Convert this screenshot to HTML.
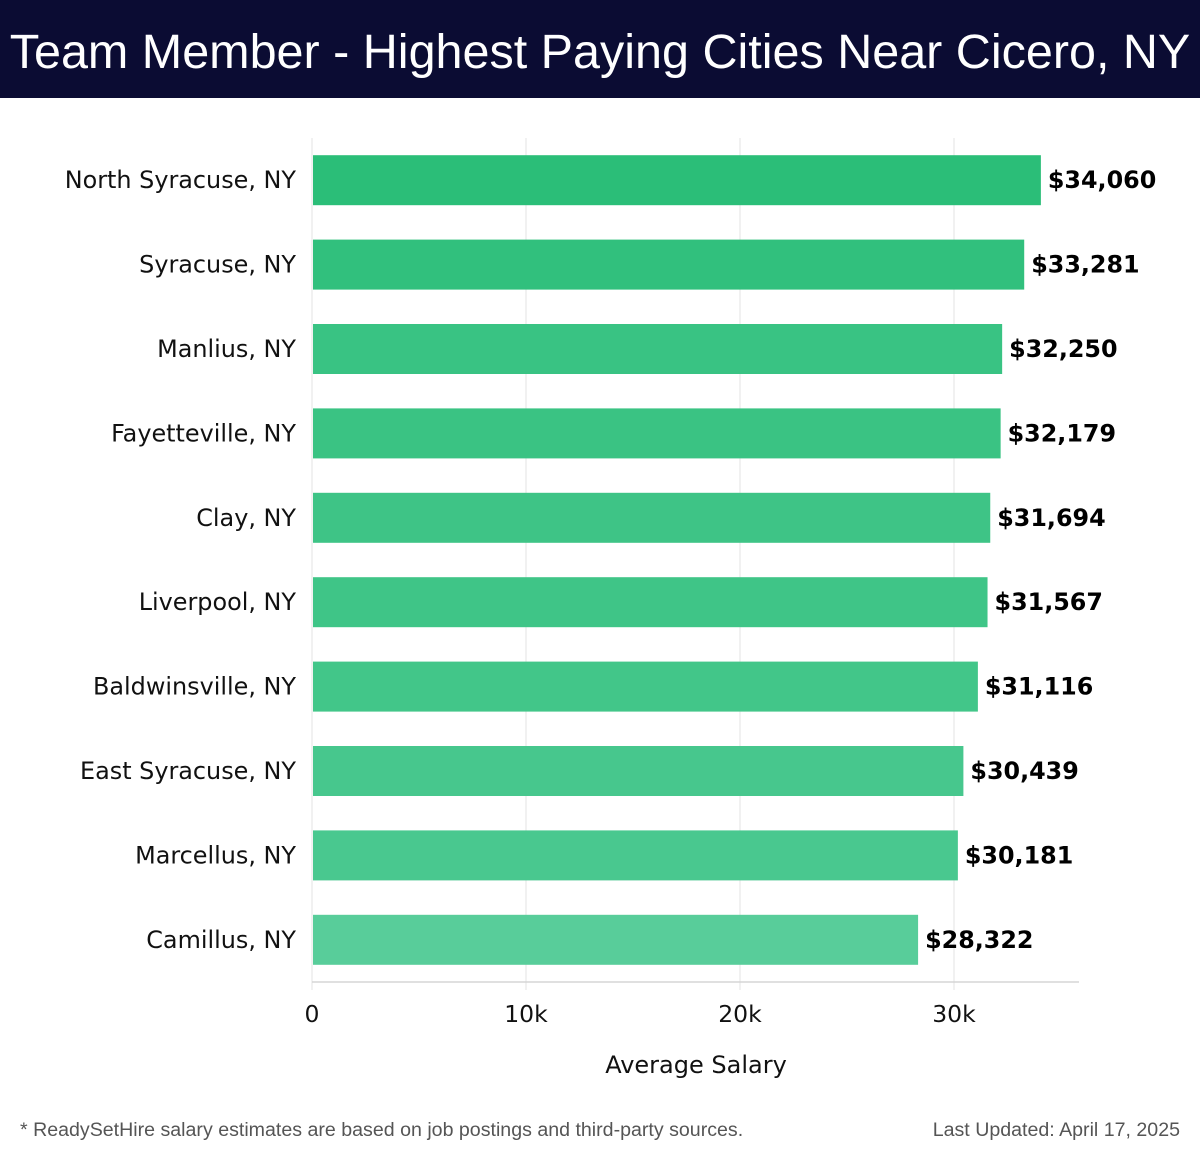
<!DOCTYPE html>
<html><head><meta charset="utf-8"><style>
body{margin:0;width:1200px;height:1158px;background:#fff;overflow:hidden;font-family:"DejaVu Sans","Liberation Sans",sans-serif}
#hdr{position:absolute;left:0;top:0;width:1200px;height:98px;background:#0b0c33;color:#fff;font-family:"Liberation Sans",sans-serif;font-size:48.5px;line-height:104px;text-align:center;white-space:nowrap}
.foot{position:absolute;top:1119px;font-family:"Liberation Sans",sans-serif;font-size:19.6px;color:#555}
</style></head><body>
<div id="hdr">Team Member - Highest Paying Cities Near Cicero, NY</div>
<svg id="c" width="1200" height="1158" style="position:absolute;left:0;top:0"></svg>
<div class="foot" style="left:20px">* ReadySetHire salary estimates are based on job postings and third-party sources.</div>
<div class="foot" style="right:20px">Last Updated: April 17, 2025</div>
<script>
const cities=["North Syracuse, NY","Syracuse, NY","Manlius, NY","Fayetteville, NY","Clay, NY","Liverpool, NY","Baldwinsville, NY","East Syracuse, NY","Marcellus, NY","Camillus, NY"];
const salaries=[34060,33281,32250,32179,31694,31567,31116,30439,30181,28322];
const ticks=[0,10000,20000,30000];
const tickLabels=["0","10k","20k","30k"];
const NS="http://www.w3.org/2000/svg";
const svg=document.getElementById('c');
const x0=312,pxPerUnit=214/10000,top0=138,band=84.4,barH=50;
const x=v=>x0+v*pxPerUnit;
const yc=i=>top0+band*i+band/2;
function mk(t,a){const e=document.createElementNS(NS,t);for(const k in a)e.setAttribute(k,a[k]);svg.appendChild(e);return e;}
ticks.forEach((t,i)=>{
 const g=mk('line',{x1:x(t),x2:x(t),y1:138,y2:990,stroke:'#e3e3e3','stroke-width':1});
 
 
 const l=mk('text',{x:x(t),y:1022,'text-anchor':'middle','font-size':23.5,fill:'#111'});l.textContent=tickLabels[i];
 
 
});
const ax=mk('line',{x1:312,x2:1079,y1:982,y2:982,stroke:'#d6d6d6','stroke-width':1.5});


const mn=Math.min(...salaries),mx=Math.max(...salaries);
const dark=[43,190,120],light=[88,205,154];
salaries.forEach((v,i)=>{
 const f=(v-mn)/(mx-mn);
 const col='rgb('+dark.map((d,k)=>Math.round(light[k]+(d-light[k])*f)).join(',')+')';
 const r=mk('rect',{x:x0+1,y:yc(i)-barH/2,width:x(v)-x0-1,height:barH,fill:col});
 
 
 const t=mk('text',{x:x(v)+7,y:yc(i)+8,'font-size':23.8,'font-weight':'bold',fill:'#000'});
 t.textContent='$'+v.toLocaleString('en-US');
 
 
 const c=mk('text',{x:296,y:yc(i)+8,'text-anchor':'end','font-size':23.9,fill:'#111'});
 c.textContent=cities[i];
 
 
});
const at=mk('text',{x:696,y:1073,'text-anchor':'middle','font-size':24,fill:'#111'});at.textContent='Average Salary';


</script>
</body></html>
